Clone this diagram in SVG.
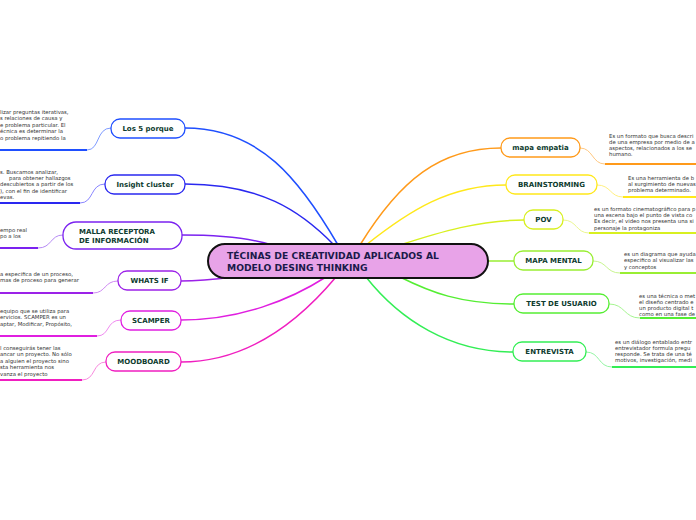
<svg xmlns="http://www.w3.org/2000/svg" width="696" height="520" viewBox="0 0 696 520">
<style>
.n rect{fill:#fff;stroke-width:1.3}
.lbl{font-family:"DejaVu Sans",Verdana,sans-serif;font-weight:bold;font-size:7px;fill:#0d3b2e}
.d{font-family:"DejaVu Sans",Verdana,sans-serif;font-size:5.35px;fill:#333}
.ct{font-family:"DejaVu Sans",Verdana,sans-serif;font-weight:bold;font-size:9.2px;fill:#1a1a4a}
.c path{fill:none}
.u{stroke-width:2}
.t{stroke-width:1}
.m{stroke-width:1.5}
</style>
<rect width="696" height="520" fill="#fff"/>
<g class="c">
<path class="m" d="M185,128 C260,128 300,180 338,245" stroke="#1f4fff"/>
<path class="m" d="M185,184 C260,184 300,210 334,245" stroke="#2a28f0"/>
<path class="m" d="M182,235 C220,235 250,238 272,245" stroke="#7b22f0"/>
<path class="m" d="M181,281 C205,281 225,278 242,276" stroke="#9c22e8"/>
<path class="m" d="M181,320 C240,320 290,300 326,277" stroke="#e01fe0"/>
<path class="m" d="M181,362 C250,362 300,320 336,277" stroke="#f01fc0"/>
<path class="m" d="M501,148 C440,148 400,180 360,245" stroke="#ff9a1a"/>
<path class="m" d="M506,185 C450,185 410,210 366,245" stroke="#ffe81a"/>
<path class="m" d="M524,220 C480,220 440,232 400,245" stroke="#d8f020"/>
<path class="m" d="M514,261 C505,261 497,261 488,261" stroke="#99ee33"/>
<path class="m" d="M514,304 C460,304 430,292 400,277" stroke="#55ee33"/>
<path class="m" d="M513,352 C450,352 400,320 366,277" stroke="#33ee55"/>
<path class="t" d="M111,128 C96,128 100,150 87,150" stroke="#7f9cff"/>
<path class="u" d="M87,150 H0" stroke="#1f4fff"/>
<path class="t" d="M105,184 C90,184 94,203 80,203" stroke="#8a86ff"/>
<path class="u" d="M80,203 H0" stroke="#2a28f0"/>
<path class="t" d="M63,235 C50,235 52,248 38,248" stroke="#b68af5"/>
<path class="u" d="M38,248 H0" stroke="#7b22f0"/>
<path class="t" d="M118,281 C104,281 106,293 93,293" stroke="#cf8af3"/>
<path class="u" d="M93,293 H0" stroke="#9c22e8"/>
<path class="t" d="M121,320 C106,320 110,336 97,336" stroke="#f08af0"/>
<path class="u" d="M97,336 H0" stroke="#e01fe0"/>
<path class="t" d="M106,362 C92,362 96,380 82,380" stroke="#f88ade"/>
<path class="u" d="M82,380 H0" stroke="#f01fc0"/>
<path class="t" d="M580,148 C593,148 592,164 605,164" stroke="#ffc880"/>
<path class="u" d="M605,164 H696" stroke="#ff9a1a"/>
<path class="t" d="M597,185 C611,185 610,197 623,197" stroke="#fff080"/>
<path class="u" d="M623,197 H696" stroke="#ffe81a"/>
<path class="t" d="M563,220 C577,220 576,233 589,233" stroke="#ebf790"/>
<path class="u" d="M589,233 H696" stroke="#d8f020"/>
<path class="t" d="M593,261 C607,261 606,273 620,273" stroke="#c8f590"/>
<path class="u" d="M620,273 H696" stroke="#99ee33"/>
<path class="t" d="M609,304 C625,304 624,318 640,318" stroke="#a5f590"/>
<path class="u" d="M640,318 H696" stroke="#55ee33"/>
<path class="t" d="M586,352 C600,352 598,367 612,367" stroke="#95f5a5"/>
<path class="u" d="M612,367 H696" stroke="#33ee55"/>
</g>
<g id="center">
<rect x="208" y="244" width="280" height="34" rx="17" fill="#e8a3e8" stroke="#111" stroke-width="2"/>
<text class="ct" x="227" y="259">TÉCINAS DE CREATIVIDAD APLICADOS AL</text>
<text class="ct" x="227" y="270.5">MODELO DESING THINKING</text>
</g>
<g id="n-5porque" class="n">
<rect x="111" y="119" width="74" height="19" rx="9" stroke="#1f4fff"/>
<text class="lbl" x="148" y="131" text-anchor="middle">Los 5 porque</text>
<text class="d" x="0" y="114">lizar preguntas iterativas,</text>
<text class="d" x="0" y="120">s relaciones de causa y</text>
<text class="d" x="0" y="126.5">e problema particular. El</text>
<text class="d" x="0" y="133">écnica es determinar la</text>
<text class="d" x="0" y="139.5">o problema repitiendo la</text>
</g>
<g id="n-insight" class="n">
<rect x="105" y="175" width="80" height="19" rx="9" stroke="#2a28f0"/>
<text class="lbl" x="145" y="187" text-anchor="middle">Insight cluster</text>
<text class="d" x="0" y="173.5">s. Buscamos analizar,</text>
<text class="d" x="9" y="179.5">para obtener hallazgos</text>
<text class="d" x="0" y="186">descubiertos a partir de los</text>
<text class="d" x="0" y="192.5">), con el fin de identificar</text>
<text class="d" x="0" y="199">evas.</text>
</g>
<g id="n-malla" class="n">
<rect x="63" y="222" width="119" height="27" rx="13" stroke="#7b22f0"/>
<text class="lbl" x="79" y="234">MALLA RECEPTORA</text>
<text class="lbl" x="79" y="243">DE INFORMACIÓN</text>
<text class="d" x="0" y="231.5">empo real</text>
<text class="d" x="0" y="237.5">po a los</text>
</g>
<g id="n-whatsif" class="n">
<rect x="118" y="271" width="63" height="19" rx="9" stroke="#9c22e8"/>
<text class="lbl" x="149.5" y="283" text-anchor="middle">WHATS IF</text>
<text class="d" x="0" y="276">a especifica de un proceso,</text>
<text class="d" x="0" y="282">mas de proceso para generar</text>
</g>
<g id="n-scamper" class="n">
<rect x="121" y="311" width="60" height="19" rx="9" stroke="#e01fe0"/>
<text class="lbl" x="151" y="323" text-anchor="middle">SCAMPER</text>
<text class="d" x="0" y="313">equipo que se utiliza para</text>
<text class="d" x="0" y="319">ervicios. SCAMPER es un</text>
<text class="d" x="0" y="325.5">aptar, Modificar, Propósito,</text>
</g>
<g id="n-moodboard" class="n">
<rect x="106" y="352" width="75" height="19" rx="9" stroke="#f01fc0"/>
<text class="lbl" x="143.5" y="364" text-anchor="middle">MOODBOARD</text>
<text class="d" x="0" y="349.5">l conseguirás tener las</text>
<text class="d" x="0" y="356">ancar un proyecto. No sólo</text>
<text class="d" x="0" y="362.5">a alguien el proyecto sino</text>
<text class="d" x="0" y="369">sta herramienta nos</text>
<text class="d" x="0" y="375.5">vanza el proyecto</text>
</g>
<g id="n-empatia" class="n">
<rect x="501" y="138" width="79" height="19" rx="9" stroke="#ff9a1a"/>
<text class="lbl" x="540.5" y="150" text-anchor="middle">mapa empatia</text>
<text class="d" x="609" y="137.5">Es un formato que busca descri</text>
<text class="d" x="609" y="143.5">de una empresa por medio de a</text>
<text class="d" x="609" y="149.5">aspectos, relacionados a los se</text>
<text class="d" x="609" y="156">humano.</text>
</g>
<g id="n-brainstorming" class="n">
<rect x="506" y="175" width="91" height="19" rx="9" stroke="#ffe81a"/>
<text class="lbl" x="551.5" y="187" text-anchor="middle">BRAINSTORMING</text>
<text class="d" x="628" y="179.5">Es una herramienta de b</text>
<text class="d" x="628" y="185.5">al surgimiento de nuevas</text>
<text class="d" x="628" y="192">problema determinado.</text>
</g>
<g id="n-pov" class="n">
<rect x="524" y="210" width="39" height="19" rx="9" stroke="#d8f020"/>
<text class="lbl" x="543.5" y="222" text-anchor="middle">POV</text>
<text class="d" x="594" y="211">es un formato cinematográfico para p</text>
<text class="d" x="594" y="217">una escena bajo el punto de vista co</text>
<text class="d" x="594" y="223">Es decir, el video nos presenta una si</text>
<text class="d" x="594" y="229.5">personaje la protagoniza</text>
</g>
<g id="n-mapamental" class="n">
<rect x="514" y="251" width="79" height="19" rx="9" stroke="#99ee33"/>
<text class="lbl" x="553.5" y="263" text-anchor="middle">MAPA MENTAL</text>
<text class="d" x="624" y="256">es un diagrama que ayuda</text>
<text class="d" x="624" y="262">especifico al visualizar las</text>
<text class="d" x="624" y="268.5">y conceptos</text>
</g>
<g id="n-test" class="n">
<rect x="514" y="294" width="95" height="19" rx="9" stroke="#55ee33"/>
<text class="lbl" x="561.5" y="306" text-anchor="middle">TEST DE USUARIO</text>
<text class="d" x="639" y="297.5">es una técnica o met</text>
<text class="d" x="639" y="303.5">el diseño centrado e</text>
<text class="d" x="639" y="310">un producto digital t</text>
<text class="d" x="639" y="316">como en una fase de</text>
</g>
<g id="n-entrevista" class="n">
<rect x="513" y="342" width="73" height="19" rx="9" stroke="#33ee55"/>
<text class="lbl" x="549.5" y="354" text-anchor="middle">ENTREVISTA</text>
<text class="d" x="615" y="343.5">es un diálogo entablado entr</text>
<text class="d" x="615" y="349.5">entrevistador formula pregu</text>
<text class="d" x="615" y="356">responde. Se trata de una té</text>
<text class="d" x="615" y="362">motivos, investigación, medi</text>
</g>
</svg>
